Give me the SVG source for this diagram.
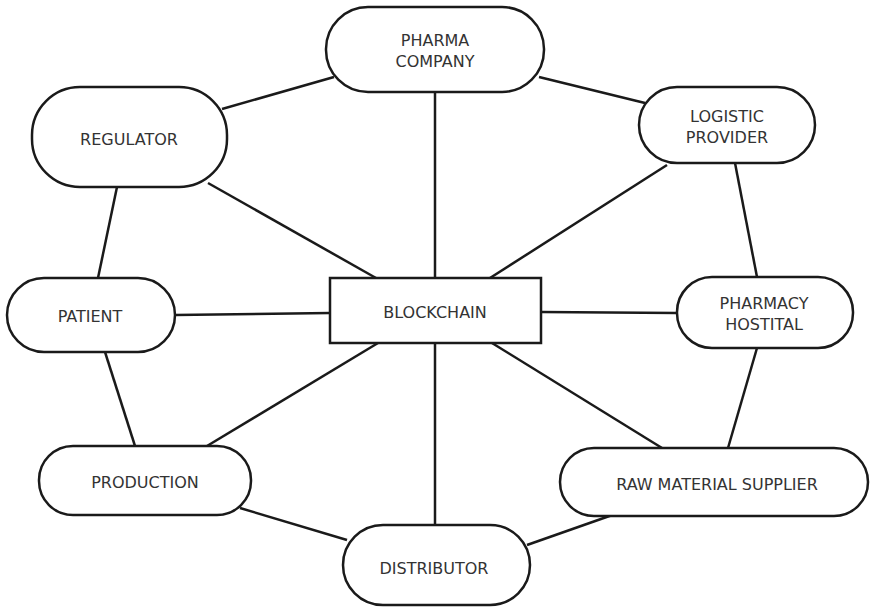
<svg xmlns="http://www.w3.org/2000/svg" width="872" height="608" viewBox="0 0 872 608">
  <style>
    .node { fill: #ffffff; stroke: #1a1a1a; stroke-width: 2.5; }
    .link { stroke: #1a1a1a; stroke-width: 2.5; fill: none; }
    .label { font-family: "DejaVu Sans", Verdana, sans-serif; font-size: 16px; fill: #333333; text-anchor: middle; dominant-baseline: central; }
  </style>
  <rect width="872" height="608" fill="#ffffff"/>

  <!-- connectors drawn beneath the nodes -->
  <g id="connectors">
    <line class="link" x1="222" y1="109" x2="334" y2="77"/>
    <line class="link" x1="539" y1="77" x2="645" y2="103"/>
    <line class="link" x1="435" y1="92" x2="435" y2="278"/>
    <line class="link" x1="208" y1="183" x2="376" y2="278"/>
    <line class="link" x1="667" y1="165" x2="490" y2="278"/>
    <line class="link" x1="735" y1="163" x2="757" y2="277"/>
    <line class="link" x1="117" y1="187" x2="98" y2="278"/>
    <line class="link" x1="175" y1="315" x2="330" y2="313"/>
    <line class="link" x1="541" y1="312" x2="677" y2="313"/>
    <line class="link" x1="105" y1="352" x2="135" y2="446"/>
    <line class="link" x1="378" y1="343" x2="207" y2="446"/>
    <line class="link" x1="435" y1="343" x2="435" y2="525"/>
    <line class="link" x1="492" y1="343" x2="662" y2="448"/>
    <line class="link" x1="757" y1="348" x2="728" y2="448"/>
    <line class="link" x1="240" y1="508" x2="347" y2="540"/>
    <line class="link" x1="527" y1="545" x2="618" y2="513"/>
  </g>

  <g id="pharma-company">
    <rect class="node" x="326" y="7" width="218" height="85" rx="42" ry="42"/>
    <text class="label" x="435" y="40">PHARMA</text>
    <text class="label" x="435" y="61">COMPANY</text>
  </g>

  <g id="regulator">
    <rect class="node" x="32" y="87" width="195" height="100" rx="48" ry="48"/>
    <text class="label" x="129" y="139">REGULATOR</text>
  </g>

  <g id="logistic-provider">
    <rect class="node" x="639" y="87" width="176" height="76" rx="38" ry="38"/>
    <text class="label" x="727" y="116">LOGISTIC</text>
    <text class="label" x="727" y="137">PROVIDER</text>
  </g>

  <g id="patient">
    <rect class="node" x="7" y="278" width="168" height="74" rx="37" ry="37"/>
    <text class="label" x="90" y="316">PATIENT</text>
  </g>

  <g id="blockchain">
    <rect class="node" x="330" y="278" width="211" height="65"/>
    <text class="label" x="435" y="312">BLOCKCHAIN</text>
  </g>

  <g id="pharmacy-hostital">
    <rect class="node" x="677" y="277" width="176" height="71" rx="35" ry="35"/>
    <text class="label" x="764" y="303">PHARMACY</text>
    <text class="label" x="764" y="324">HOSTITAL</text>
  </g>

  <g id="production">
    <rect class="node" x="39" y="446" width="212" height="69" rx="34" ry="34"/>
    <text class="label" x="145" y="482">PRODUCTION</text>
  </g>

  <g id="raw-material-supplier">
    <rect class="node" x="560" y="448" width="308" height="68" rx="34" ry="34"/>
    <text class="label" x="717" y="484">RAW MATERIAL SUPPLIER</text>
  </g>

  <g id="distributor">
    <rect class="node" x="343" y="525" width="187" height="80" rx="40" ry="40"/>
    <text class="label" x="434" y="568">DISTRIBUTOR</text>
  </g>
</svg>
